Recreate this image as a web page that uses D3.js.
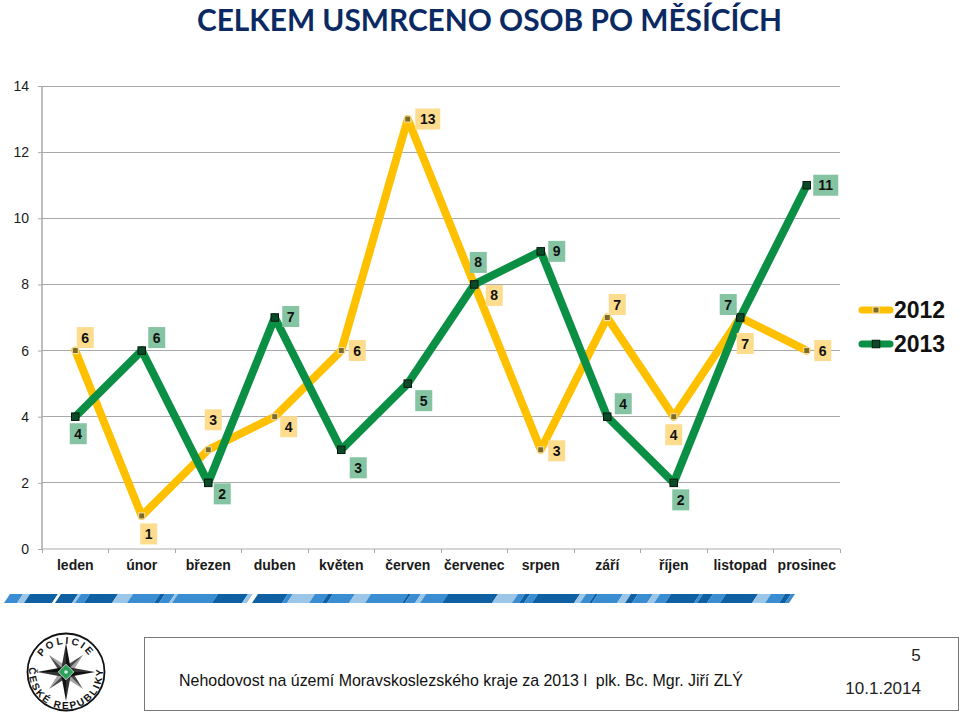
<!DOCTYPE html>
<html><head><meta charset="utf-8">
<script src="https://cdn.jsdelivr.net/npm/d3@7/dist/d3.min.js"></script>
<style>html,body{margin:0;padding:0;background:#fff}svg{display:block}text{font-family:"Liberation Sans",Arial,sans-serif}</style>
</head><body><svg id="c" width="960" height="712"></svg>
<script>
const months=["leden","únor","březen","duben","květen","červen","červenec","srpen","září","říjen","listopad","prosinec"];
const values2012=[6,1,3,4,6,13,8,3,7,4,7,6];
const values2013=[4,6,2,7,3,5,8,9,4,2,7,11];
const yTicks=[0,2,4,6,8,10,12,14];
const titleText="CELKEM USMRCENO OSOB PO MĚSÍCÍCH";
const footerText="Nehodovost na území Moravskoslezského kraje za 2013 l  plk. Bc. Mgr. Jiří ZLÝ";
const pageNumber="5", dateText="10.1.2014";
// nudges of the value labels from their points
const nudge2012=[[10,-13],[7,18],[5,-30],[14,10],[16,0],[20,0],[20,11],[16,1],[10,-13],[0,18],[5,26],[16,0]];
const nudge2013=[[3,17],[15,-13],[14,11],[16,-1],[17,18],[16,17],[4,-22],[16,0],[16,-13],[7,17],[-12,-13],[19,0]];
// ribbon pieces: [end x, tone]
const ribbon=[[20,"m"],[27,"l"],[55,"d"],[58,"w"],[75,"d"],[78,"l"],[87,"m"],[115,"d"],[130,"l"],[157,"m"],[162,"d"],[172,"m"],[175,"l"],[215,"m"],[245,"d"],[250,"l"],[255,"w"],[285,"d"],[290,"m"],[312,"l"],[325,"m"],[330,"d"],[352,"m"],[368,"l"],[405,"m"],[408,"d"],[418,"m"],[423,"l"],[445,"m"],[495,"d"],[515,"l"],[522,"m"],[527,"d"],[535,"m"],[577,"d"],[583,"l"],[592,"m"],[595,"d"],[620,"m"],[628,"l"],[635,"d"],[650,"m"],[657,"l"],[668,"m"],[697,"d"],[700,"m"],[710,"d"],[723,"m"],[755,"d"],[768,"l"],[782,"m"],[788,"d"],[792,"m"]];
const tones={m:"#3a8dd0",d:"#0f5fa3",l:"#9cc6e8",w:"#ffffff"};

const svg=d3.select("#c");
const x=d3.scaleBand().domain(months).range([42,840]);
const y=d3.scaleLinear().domain([0,14]).range([549,86]);
const cx=m=>x(m)+x.bandwidth()/2;
const axisGray="#a9a9a9";

svg.append("text").attr("x",489.5).attr("y",31).attr("text-anchor","middle")
 .attr("textLength",585).attr("lengthAdjust","spacingAndGlyphs")
 .style("font-family","Lato,sans-serif").style("font-size","31px").style("font-weight",700).attr("fill","#0b2a63").text(titleText);

// grid
svg.append("g").selectAll("line").data(yTicks.filter(d=>d>0)).join("line")
 .attr("x1",42).attr("x2",840).attr("y1",d=>y(d)).attr("y2",d=>y(d)).attr("stroke",axisGray).attr("stroke-width",1).attr("shape-rendering","crispEdges");

const gy=svg.append("g").attr("transform","translate(42,0)").call(d3.axisLeft(y).tickValues(yTicks).tickSize(4).tickPadding(9).tickFormat(d3.format("d")));
gy.select(".domain").attr("stroke",axisGray).attr("stroke-width",1.5).attr("d","M0,86V549");
gy.selectAll("line").attr("stroke",axisGray);
gy.selectAll("text").style("font-size","14px").attr("fill","#1a1a1a");

const gx=svg.append("g").attr("transform","translate(0,549)").call(d3.axisBottom(x).tickSize(0).tickPadding(11));
gx.select(".domain").attr("stroke",axisGray).attr("d","M42,0H840");
gx.selectAll("text").style("font-size","14px").style("font-weight",700).attr("fill","#1a1a1a");
svg.append("g").selectAll("line").data(months.map(m=>x(m)).concat([840])).join("line")
 .attr("x1",d=>d).attr("x2",d=>d).attr("y1",549).attr("y2",553).attr("stroke",axisGray).attr("shape-rendering","crispEdges");

const line=d3.line().x((d,i)=>cx(months[i])).y(d=>y(d)).curve(d3.curveLinear);
const series=[
 {name:"2012",vals:values2012,color:"#ffc000",nudge:nudge2012,label:"#fddc8e",mfill:"#7d6a25",mstroke:"#f6e3b0",ms:6},
 {name:"2013",vals:values2013,color:"#0b8f45",nudge:nudge2013,label:"#84c4a2",mfill:"#0b4a28",mstroke:"#04190d",ms:7.5}
];
series.forEach(s=>{
 svg.append("path").attr("d",line(s.vals)).attr("fill","none").attr("stroke",s.color).attr("stroke-width",8).attr("stroke-linejoin","round").attr("stroke-linecap","round");
});
series.forEach(s=>{
 svg.append("g").selectAll("rect").data(s.vals).join("rect")
  .attr("x",(d,i)=>cx(months[i])-s.ms/2).attr("y",d=>y(d)-s.ms/2).attr("width",s.ms).attr("height",s.ms)
  .attr("fill",s.mfill).attr("stroke",s.mstroke).attr("stroke-width",1);
});
series.forEach(s=>{
 const g=svg.append("g").selectAll("g").data(s.vals).join("g")
  .attr("transform",(d,i)=>`translate(${cx(months[i])+s.nudge[i][0]},${y(d)+s.nudge[i][1]})`);
 g.append("rect").attr("x",d=>d>9?-12.5:-8.5).attr("y",-10.5).attr("width",d=>d>9?25:17).attr("height",21).attr("fill",s.label);
 g.append("text").attr("text-anchor","middle").attr("y",5).style("font-size","14px").style("font-weight",700).attr("fill","#111").text(d=>d);
});

// legend
const lg=svg.append("g").selectAll("g").data(series).join("g").attr("transform",(d,i)=>`translate(0,${310+i*34})`);
lg.append("line").attr("x1",862).attr("x2",890).attr("stroke",d=>d.color).attr("stroke-width",7).attr("stroke-linecap","round");
lg.append("rect").attr("x",d=>876-d.ms/2).attr("y",d=>-d.ms/2).attr("width",d=>d.ms).attr("height",d=>d.ms).attr("fill",d=>d.mfill).attr("stroke",d=>d.mstroke);
lg.append("text").attr("x",894).attr("y",8).style("font-size","23px").style("font-weight",700).attr("fill","#111").text(d=>d.name);

// ribbon
svg.append("g").selectAll("polygon").data(ribbon).join("polygon")
 .attr("points",(d,i)=>{const a=i?ribbon[i-1][0]:7,b=d[0];return `${a-3},603 ${a+3},594 ${b+3},594 ${b-3},603`;})
 .attr("fill",d=>tones[d[1]]);

// footer box
svg.append("rect").attr("x",144.5).attr("y",637.5).attr("width",814).attr("height",73).attr("fill","none").attr("stroke","#777").attr("stroke-width",1);
svg.append("text").attr("x",179).attr("y",686).attr("textLength",564).attr("lengthAdjust","spacingAndGlyphs").style("font-size","17px").style("white-space","pre").attr("fill","#111").text(footerText);
svg.append("text").attr("x",916).attr("y",661).attr("text-anchor","middle").style("font-size","17px").attr("fill","#222").text(pageNumber);
svg.append("text").attr("x",921).attr("y",694).attr("text-anchor","end").style("font-size","17px").attr("fill","#222").text(dateText);

// police emblem
const logo=svg.append("g").attr("transform","translate(66,672)");
logo.append("circle").attr("r",38.5).attr("fill","#fff").attr("stroke","#111").attr("stroke-width",1.8);
const defs=svg.append("defs");
defs.append("path").attr("id","arcTop").attr("d","M-27.6,-6 A28.3,28.3 0 0 1 27.6,-6");
defs.append("path").attr("id","arcBot").attr("d","M-36,-8 A36.9,36.9 0 1 0 36,-8");
const halves=(len,w)=>[`M${len},0L${w},${w}L0,0Z`,`M${len},0L${w},${-w}L0,0Z`];
[45,135,225,315].forEach(a=>{
 const g=logo.append("g").attr("transform",`rotate(${a})`);
 const h=halves(24,4.5);
 g.append("path").attr("d",h[0]).attr("fill","#a5a5a5");
 g.append("path").attr("d",h[1]).attr("fill","#4a4a4a");
});
[0,90,180,270].forEach(a=>{
 const g=logo.append("g").attr("transform",`rotate(${a})`);
 const h=halves(29,4.5);
 g.append("path").attr("d",h[0]).attr("fill","#111");
 g.append("path").attr("d",h[1]).attr("fill","#333");
});
logo.append("rect").attr("x",-5.5).attr("y",-5.5).attr("width",11).attr("height",11).attr("transform","rotate(45)").attr("fill","#2ba05a").attr("stroke","#fff").attr("stroke-width",.7);
logo.append("circle").attr("r",1.8).attr("fill","#d8efe0");
logo.append("text").style("font-size","10px").style("font-weight",700).attr("letter-spacing","2.4px").attr("fill","#111").append("textPath").attr("href","#arcTop").attr("startOffset","50%").attr("text-anchor","middle").text("POLICIE");
logo.append("text").style("font-size","10px").style("font-weight",700).attr("letter-spacing","2px").attr("fill","#111").append("textPath").attr("href","#arcBot").attr("startOffset","50%").attr("text-anchor","middle").text("ČESKÉ REPUBLIKY");
</script></body></html>
